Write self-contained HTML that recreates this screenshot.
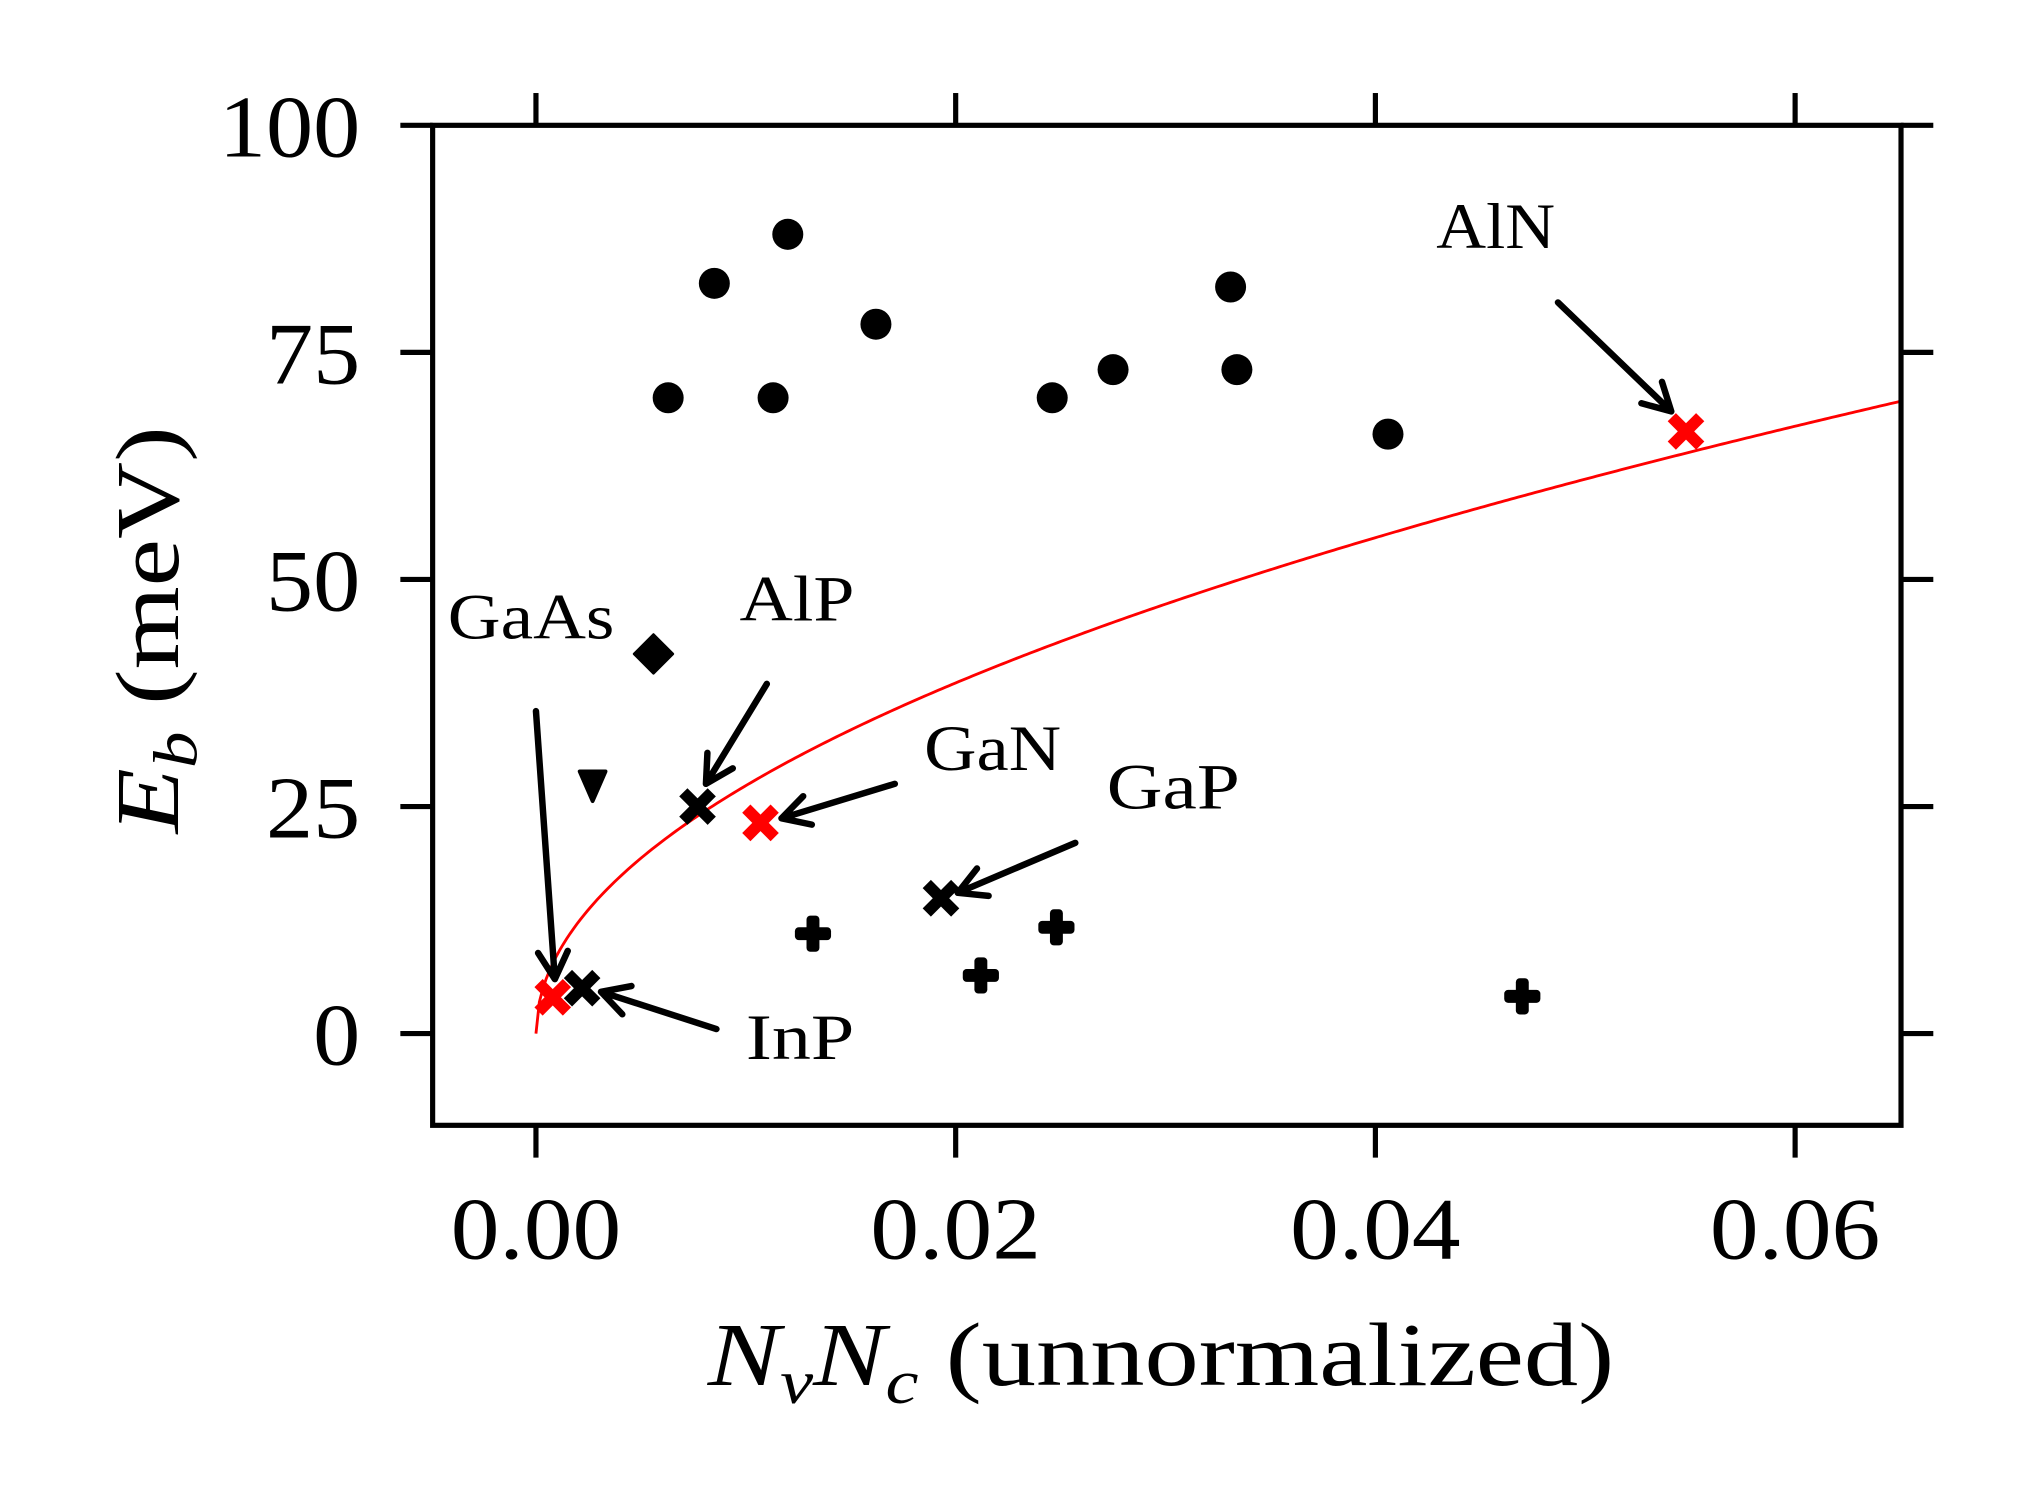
<!DOCTYPE html>
<html><head><meta charset="utf-8"><style>
html,body{margin:0;padding:0;background:#fff;}
svg{display:block;}
text{font-family:"Liberation Serif",serif;fill:#000;}
</style></head><body>
<svg id="chart" width="2025" height="1500" viewBox="0 0 1568 1161" preserveAspectRatio="none" xmlns="http://www.w3.org/2000/svg">
<rect width="1568" height="1161" fill="#fff"/>
<g id="marks"></g>
<g id="annots"></g>
<rect x="335" y="97" width="1137" height="774" fill="none" stroke="#000" stroke-width="4"/>
<g id="ticks"></g>
<text x="548" y="1072" font-size="70" textLength="702" lengthAdjust="spacingAndGlyphs"><tspan font-style="italic">N</tspan><tspan font-style="italic" font-size="48" dy="14">v</tspan><tspan font-style="italic" dy="-14">N</tspan><tspan font-style="italic" font-size="48" dy="14">c</tspan><tspan dy="-14"> (unnormalized)</tspan></text>
<text transform="translate(138,645) rotate(-90)" font-size="70" textLength="315" lengthAdjust="spacingAndGlyphs"><tspan font-style="italic">E</tspan><tspan font-style="italic" font-size="48" dy="14">b</tspan><tspan dy="-14"> (meV)</tspan></text>
</svg>
<script>
const xTicks=[0,0.02,0.04,0.06];
const xTickLabels=["0.00","0.02","0.04","0.06"];
const yTicks=[0,25,50,75,100];
const yTickLabels=["0","25","50","75","100"];
const circleX=[0.0063,0.0085,0.0120,0.0113,0.0162,0.0246,0.0275,0.0331,0.0334,0.0406];
const circleY=[70,82.6,88,70,78.1,70,73.1,82.2,73.1,66];
const diamondX=[0.0056];const diamondY=[41.8];
const triX=[0.0027];const triY=[27.3];
const plusX=[0.0132,0.0212,0.0248,0.0470];
const plusY=[11,6.4,11.7,4.1];
const blackXx=[0.0077,0.0193,0.0022];
const blackXy=[25,14.9,5];
const redXx=[0.0107,0.0548,0.0008];
const redXy=[23.2,66.3,4];
const fitCoef=273;
const labels=["AlN","AlP","GaAs","GaN","GaP","InP"];
const labelX=[0.0429,0.0097,-0.0042,0.0185,0.0272,0.0100];
const labelY=[86.5,45.5,43.5,29,24.8,-2.8];
const arrowFromX=[0.0487,0.0110,0.0000,0.0171,0.0257,0.0086];
const arrowFromY=[80.5,38.5,35.5,27.5,21,0.5];
const arrowToX=[0.0541,0.0081,0.0009,0.0117,0.0201,0.0031];
const arrowToY=[68.5,27.5,6,23.7,15.5,4.6];
const labelW={AlN:92,AlP:89,GaAs:129,GaN:106,GaP:103,InP:84};

const sx=v=>415+v*16250;
const sy=v=>800-v*7.03;
const NS="http://www.w3.org/2000/svg";
const marks=document.getElementById('marks');
const ann=document.getElementById('annots');
const tk=document.getElementById('ticks');
function mk(tag,attrs,parent){const e=document.createElementNS(NS,tag);for(const k in attrs)e.setAttribute(k,attrs[k]);parent.appendChild(e);return e;}

let d="";
for(let i=0;i<=400;i++){const x=0.065*i/400;d+=(i?"L":"M")+sx(x).toFixed(2)+","+sy(fitCoef*Math.sqrt(x)).toFixed(2);}
const fit=mk('path',{d:d,fill:"none",stroke:"#f00","stroke-width":2.2},marks);



circleX.forEach((x,i)=>{const c=mk('circle',{cx:sx(x),cy:sy(circleY[i]),r:12,fill:"#000"},marks);

});
diamondX.forEach((x,i)=>{const cx=sx(x),cy=sy(diamondY[i]);const p=mk('polygon',{points:`${cx},${cy-15} ${cx+15},${cy} ${cx},${cy+15} ${cx-15},${cy}`,fill:"#000","stroke-linejoin":"round",stroke:"#000","stroke-width":2},marks);

});
triX.forEach((x,i)=>{const cx=sx(x),cy=sy(triY[i]);const p=mk('polygon',{points:`${cx-10},${cy-11} ${cx+10},${cy-11} ${cx},${cy+12}`,fill:"#000",stroke:"#000","stroke-width":3,"stroke-linejoin":"round"},marks);

});
plusX.forEach((x,i)=>{const cx=sx(x),cy=sy(plusY[i]);const g=mk('g',{fill:"#000"},marks);
mk('rect',{x:cx-5,y:cy-14,width:10,height:28,rx:3},g);mk('rect',{x:cx-14,y:cy-5,width:28,height:10,rx:3},g);

});
function xMark(x,y,col,name){const cx=sx(x),cy=sy(y);const g=mk('g',{stroke:col,"stroke-width":9},marks);
mk('line',{x1:cx-11,y1:cy-11,x2:cx+11,y2:cy+11},g);mk('line',{x1:cx-11,y1:cy+11,x2:cx+11,y2:cy-11},g);

}
blackXx.forEach((x,i)=>xMark(x,blackXy[i],"#000","black-x-point"));
redXx.forEach((x,i)=>xMark(x,redXy[i],"#f00","red-x-point"));

labels.forEach((t,i)=>{
const tx=mk('text',{x:sx(labelX[i]),y:sy(labelY[i]),"font-size":50,textLength:labelW[t],lengthAdjust:"spacingAndGlyphs"},ann);tx.textContent=t;


const x1=sx(arrowFromX[i]),y1=sy(arrowFromY[i]),x2=sx(arrowToX[i]),y2=sy(arrowToY[i]);
const a=Math.atan2(y2-y1,x2-x1),L=24,w=0.5;
const g=mk('g',{stroke:"#000","stroke-width":5,fill:"none","stroke-linecap":"round","stroke-linejoin":"round"},ann);
mk('path',{d:`M${x1},${y1}L${x2},${y2}M${x2-L*Math.cos(a-w)},${y2-L*Math.sin(a-w)}L${x2},${y2}L${x2-L*Math.cos(a+w)},${y2-L*Math.sin(a+w)}`},g);


});

xTicks.forEach((v,i)=>{const x=sx(v);
mk('line',{x1:x,y1:871,x2:x,y2:896,stroke:"#000","stroke-width":4},tk);
mk('line',{x1:x,y1:97,x2:x,y2:72,stroke:"#000","stroke-width":4},tk);
const t=mk('text',{x:x-66,y:974,"font-size":68,textLength:132,lengthAdjust:"spacingAndGlyphs"},tk);t.textContent=xTickLabels[i];

});
yTicks.forEach((v,i)=>{const y=sy(v);
mk('line',{x1:335,y1:y,x2:310,y2:y,stroke:"#000","stroke-width":4},tk);
mk('line',{x1:1472,y1:y,x2:1497,y2:y,stroke:"#000","stroke-width":4},tk);
const w=yTickLabels[i].length*36.5;
const t=mk('text',{x:279-w,y:y+24,"font-size":68,textLength:w,lengthAdjust:"spacingAndGlyphs"},tk);t.textContent=yTickLabels[i];

});
</script>
</body></html>
